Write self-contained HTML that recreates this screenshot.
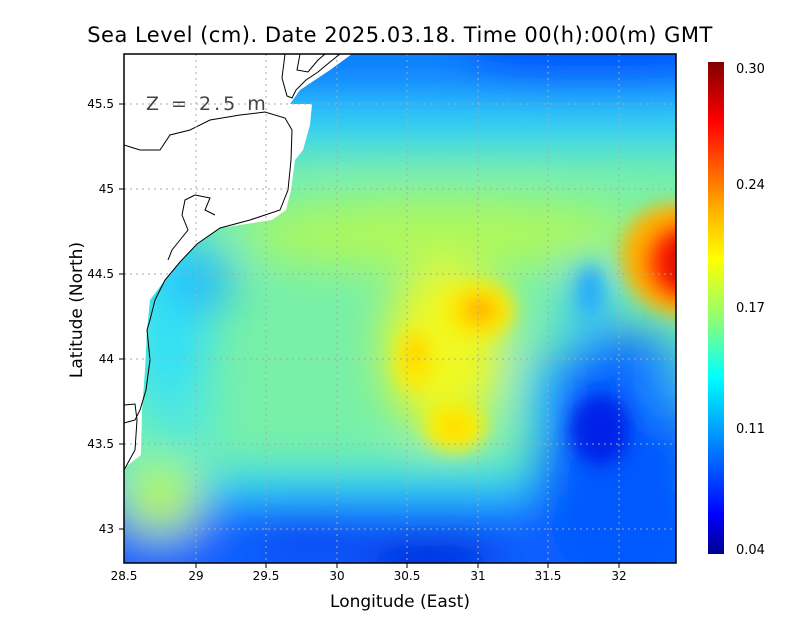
<!DOCTYPE html>
<html><head><style>
body{margin:0;background:#fff;width:800px;height:618px;overflow:hidden;font-family:"DejaVu Sans","Liberation Sans",sans-serif}
</style></head><body>
<svg width="800" height="618" viewBox="0 0 800 618" xmlns="http://www.w3.org/2000/svg">
<defs>
<clipPath id="c"><rect x="124" y="54" width="552" height="509"/></clipPath>
<filter id="b" x="-50%" y="-50%" width="200%" height="200%"><feGaussianBlur stdDeviation="22"/></filter>
<filter id="b2" x="-50%" y="-50%" width="200%" height="200%"><feGaussianBlur stdDeviation="9"/></filter>
<linearGradient id="cb" x1="0" y1="0" x2="0" y2="1">
<stop offset="0" stop-color="#800000"/><stop offset="0.12" stop-color="#ff0000"/><stop offset="0.3" stop-color="#ffb000"/><stop offset="0.4" stop-color="#ffff00"/><stop offset="0.52" stop-color="#90ff70"/><stop offset="0.64" stop-color="#00ffff"/><stop offset="0.8" stop-color="#0070ff"/><stop offset="0.92" stop-color="#0000ff"/><stop offset="1" stop-color="#000090"/>
</linearGradient>
</defs>
<g clip-path="url(#c)">
<rect x="100" y="30" width="600" height="560" fill="#78f0a8"/>
<g filter="url(#b)">
<rect x="0" y="-50" width="800" height="150" fill="#1080ff"/>
<rect x="0" y="100" width="800" height="50" fill="#30d0f8"/>
<ellipse cx="600" cy="50" rx="140" ry="40" fill="#0058ff"/>
<ellipse cx="440" cy="235" rx="200" ry="35" fill="#b0f858"/>
<ellipse cx="170" cy="330" rx="40" ry="110" fill="#30e0f8"/>
<ellipse cx="200" cy="280" rx="35" ry="30" fill="#20b8ff"/>
<ellipse cx="180" cy="420" rx="40" ry="30" fill="#50e8e0"/>
<rect x="0" y="470" width="800" height="30" fill="#30d8f8"/>
<rect x="0" y="500" width="800" height="150" fill="#0860ff"/>
<ellipse cx="430" cy="560" rx="70" ry="22" fill="#0010d8"/>
<ellipse cx="310" cy="535" rx="60" ry="18" fill="#0838f0"/>
<ellipse cx="160" cy="500" rx="40" ry="35" fill="#b8f850"/>
<ellipse cx="620" cy="460" rx="85" ry="130" fill="#0058ff"/>
<ellipse cx="540" cy="400" rx="15" ry="60" fill="#30c8ff"/>
<ellipse cx="665" cy="380" rx="25" ry="45" fill="#2098ff"/>
<ellipse cx="588" cy="310" rx="22" ry="50" fill="#30c0ff"/>
<ellipse cx="445" cy="350" rx="60" ry="85" fill="#f0f820"/>
</g>
<g filter="url(#b2)">
<ellipse cx="600" cy="430" rx="30" ry="35" fill="#0020e8"/>
<ellipse cx="590" cy="290" rx="12" ry="25" fill="#20a8ff"/>
<ellipse cx="480" cy="310" rx="34" ry="28" fill="#ffe800"/>
<ellipse cx="480" cy="310" rx="16" ry="13" fill="#ffb000"/>
<ellipse cx="415" cy="360" rx="18" ry="30" fill="#ffe800"/>
<ellipse cx="415" cy="352" rx="7" ry="12" fill="#ffc800"/>
<ellipse cx="455" cy="427" rx="30" ry="24" fill="#ffee00"/>
<ellipse cx="455" cy="427" rx="12" ry="10" fill="#ffd800"/>
<ellipse cx="680" cy="260" rx="60" ry="55" fill="#ffb000" transform="rotate(30 680 260)"/>
<ellipse cx="685" cy="262" rx="40" ry="40" fill="#ff2000" transform="rotate(30 685 262)"/>
<ellipse cx="695" cy="262" rx="22" ry="30" fill="#c00000"/>
</g>
<path d="M124,54 L352,54 L330,70 L300,90 L290,104 L312,104 L310,125 L303,150 L295,160 L291,190 L286,210 L272,220 L220,228 L197,244 L180,262 L165,280 L150,300 L147,330 L145,370 L142,410 L141,455 L124,468 Z" fill="#fff"/>
<path d="M124,145 L140,150 L160,150 L170,135 L190,130 L210,120 L240,115 L265,112 L285,118 L292,130 L291,160 L288,190 L280,210 L250,220 L220,228 L197,244 L180,262 L165,280 L155,300 L150,320 L147,330 L150,360 L146,390 L140,410 L135,420 L124,423" fill="none" stroke="#000" stroke-width="1"/>
<path d="M124,405 L135,404 L137,420 L135,450 L124,470" fill="none" stroke="#000" stroke-width="1"/>
<path d="M285,54 L282,78 L287,96 L292,98 L296,90 L306,80 L318,72 L330,62 L340,54" fill="none" stroke="#000" stroke-width="1"/>
<path d="M300,54 L297,70 L308,72 L318,60 L325,54" fill="none" stroke="#000" stroke-width="1"/>
<path d="M195,195 L185,200 L182,215 L188,230 L180,240 L172,250 L168,260" fill="none" stroke="#000" stroke-width="1"/>
<path d="M195,195 L210,198 L205,210 L215,215" fill="none" stroke="#000" stroke-width="1"/>
<g stroke="#aaa" stroke-width="1" stroke-dasharray="2,4">
<line x1="196" y1="54" x2="196" y2="563"/><line x1="266" y1="54" x2="266" y2="563"/><line x1="337" y1="54" x2="337" y2="563"/><line x1="407" y1="54" x2="407" y2="563"/><line x1="478" y1="54" x2="478" y2="563"/><line x1="548" y1="54" x2="548" y2="563"/><line x1="619" y1="54" x2="619" y2="563"/>
<line x1="124" y1="104" x2="676" y2="104"/><line x1="124" y1="189" x2="676" y2="189"/><line x1="124" y1="274" x2="676" y2="274"/><line x1="124" y1="359" x2="676" y2="359"/><line x1="124" y1="444" x2="676" y2="444"/><line x1="124" y1="529" x2="676" y2="529"/>
</g>
<text x="146" y="110" font-size="19" fill="#444" letter-spacing="3">Z = 2.5 m</text>
</g>
<rect x="124" y="54" width="552" height="509" fill="none" stroke="#000" stroke-width="1.5"/>
<g stroke="#000">
<line x1="196" y1="563" x2="196" y2="568"/><line x1="266" y1="563" x2="266" y2="568"/><line x1="337" y1="563" x2="337" y2="568"/><line x1="407" y1="563" x2="407" y2="568"/><line x1="478" y1="563" x2="478" y2="568"/><line x1="548" y1="563" x2="548" y2="568"/><line x1="619" y1="563" x2="619" y2="568"/>
<line x1="119" y1="104" x2="124" y2="104"/><line x1="119" y1="189" x2="124" y2="189"/><line x1="119" y1="274" x2="124" y2="274"/><line x1="119" y1="359" x2="124" y2="359"/><line x1="119" y1="444" x2="124" y2="444"/><line x1="119" y1="529" x2="124" y2="529"/>
</g>
<g font-size="12" fill="#000" text-anchor="middle">
<text x="124" y="580">28.5</text><text x="196" y="580">29</text><text x="266" y="580">29.5</text><text x="337" y="580">30</text><text x="407" y="580">30.5</text><text x="478" y="580">31</text><text x="548" y="580">31.5</text><text x="619" y="580">32</text>
</g>
<g font-size="12" fill="#000" text-anchor="end">
<text x="114" y="108">45.5</text><text x="114" y="193">45</text><text x="114" y="278">44.5</text><text x="114" y="363">44</text><text x="114" y="448">43.5</text><text x="114" y="533">43</text>
</g>
<text x="400" y="42" font-size="21" text-anchor="middle" fill="#000" letter-spacing="0.5">Sea Level (cm). Date 2025.03.18. Time 00(h):00(m) GMT</text>
<text x="400" y="607" font-size="17" text-anchor="middle" fill="#000">Longitude (East)</text>
<text transform="translate(82,310) rotate(-90)" font-size="17" text-anchor="middle" fill="#000">Latitude (North)</text>
<rect x="708" y="62" width="16" height="492" fill="url(#cb)"/>
<g font-size="13" fill="#000">
<text x="736" y="73">0.30</text><text x="736" y="189">0.24</text><text x="736" y="312">0.17</text><text x="736" y="433">0.11</text><text x="736" y="554">0.04</text>
</g>
</svg>
</body></html>
